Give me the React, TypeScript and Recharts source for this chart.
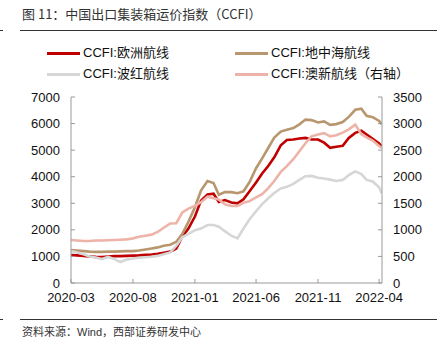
import React from 'react';
import { LineChart, Line, XAxis, YAxis } from 'recharts';

const dates = [
  '2020-03-01','2020-03-16','2020-04-01','2020-04-16','2020-05-01','2020-05-16','2020-06-01','2020-06-16',
  '2020-07-01','2020-07-16','2020-08-01','2020-08-16','2020-09-01','2020-09-16','2020-10-01','2020-10-16',
  '2020-11-01','2020-11-16','2020-12-01','2020-12-16','2021-01-01','2021-01-16','2021-02-01','2021-02-16',
  '2021-03-01','2021-03-16','2021-04-01','2021-04-16','2021-05-01','2021-05-16','2021-06-01','2021-06-16',
  '2021-07-01','2021-07-16','2021-08-01','2021-08-16','2021-09-01','2021-09-16','2021-10-01','2021-10-16',
  '2021-11-01','2021-11-16','2021-12-01','2021-12-16','2022-01-01','2022-01-16','2022-02-01','2022-02-16',
  '2022-03-01','2022-03-16','2022-04-01','2022-04-07',
];

const europe = [
  1050,1040,1020,1000,985,980,1000,1010,1010,1020,1030,1040,1060,1075,1100,1140,
  1180,1300,1750,2050,2500,3100,3330,3360,3050,3120,3030,3000,3150,3450,3780,4120,
  4400,4730,5180,5380,5400,5440,5460,5400,5400,5280,5090,5130,5160,5460,5650,5730,
  5590,5430,5250,5150,
];

const mediterranean = [
  1240,1220,1200,1180,1170,1170,1180,1180,1190,1200,1200,1220,1260,1300,1340,1400,
  1440,1550,1850,2300,2850,3480,3840,3760,3320,3420,3420,3380,3450,3800,4320,4690,
  5080,5470,5700,5770,5830,5970,6150,6130,6040,6080,5950,5980,6060,6250,6520,6560,
  6290,6240,6100,5970,
];

const redSea = [
  1200,1150,1080,1000,960,900,980,900,790,880,920,950,970,985,1020,1080,
  1150,1400,1720,1850,1990,2050,2180,2180,2120,1950,1780,1680,2050,2400,2700,2970,
  3190,3390,3560,3620,3730,3880,4020,4030,3960,3930,3890,3840,3880,4060,4200,4100,
  3880,3820,3600,3380,
];

const australiaNZ = [
  808,800,790,790,800,800,805,810,815,820,840,870,890,910,960,1040,
  1120,1125,1330,1400,1450,1520,1625,1595,1570,1480,1450,1450,1510,1540,1610,1670,
  1785,1920,2090,2200,2330,2480,2630,2760,2795,2820,2760,2780,2830,2890,2980,2800,
  2740,2680,2580,2540,
];

const xTickLabels = ['2020-03', '2020-08', '2021-01', '2021-06', '2021-11', '2022-04'];
const leftTicks = [0, 1000, 2000, 3000, 4000, 5000, 6000, 7000];
const rightTicks = [0, 500, 1000, 1500, 2000, 2500, 3000, 3500];
const xStart = '2020-03-01';
const xEnd = '2022-04-08';

const seriesNames = ['CCFI:欧洲航线', 'CCFI:地中海航线', 'CCFI:波红航线', 'CCFI:澳新航线（右轴）'];
const colors = ['#C00000', '#B8976F', '#D6D6D6', '#EDB3A8'];

const toTs = (s: string) => {
  const [y, m, d] = s.split('-').map(Number);
  return Date.UTC(y, m - 1, d || 1);
};

const data = dates.map((d, i) => ({
  t: toTs(d),
  eu: europe[i],
  med: mediterranean[i],
  rs: redSea[i],
  anz: australiaNZ[i],
}));

const FONT = '"Liberation Sans", Arial, "Noto Sans CJK SC", sans-serif';
const AXIS = '#9a9a9a';
const TM = 11;

const LeftTick = (props: any) => {
  const { x, y, payload } = props;
  return (
    <g>
      <line x1={x + TM} x2={x + TM + 4} y1={y} y2={y} stroke={AXIS} />
      <text x={x} y={y} dy="0.35em" textAnchor="end" fontSize={13} fill="#111" fontFamily={FONT}>
        {payload.value}
      </text>
    </g>
  );
};

const RightTick = (props: any) => {
  const { x, y, payload } = props;
  return (
    <g>
      <line x1={x - TM - 4} x2={x - TM} y1={y} y2={y} stroke={AXIS} />
      <text x={x} y={y} dy="0.35em" textAnchor="start" fontSize={13} fill="#111" fontFamily={FONT}>
        {payload.value}
      </text>
    </g>
  );
};

const xTickMap: Record<number, string> = {};
xTickLabels.forEach((l) => { xTickMap[toTs(l + '-01')] = l; });

const BottomTick = (props: any) => {
  const { x, y, payload } = props;
  const axisY = y - 4;
  return (
    <g>
      <line x1={x} x2={x} y1={axisY - 4} y2={axisY} stroke={AXIS} />
      <text x={x} y={axisY + 18.5} textAnchor="middle" fontSize={13} fill="#111" fontFamily={FONT}>
        {xTickMap[payload.value]}
      </text>
    </g>
  );
};

export default function App() {
  const legendPos = [
    { x: 47, y: 53 },
    { x: 235, y: 53 },
    { x: 47, y: 74 },
    { x: 235, y: 74 },
  ];
  return (
    <div style={{ position: 'absolute', left: 0, top: 0, width: 441, height: 349, background: '#fff', overflow: 'hidden', fontFamily: FONT }}>
      <div style={{ position: 'absolute', left: 22, top: 6, fontSize: 13, lineHeight: '16px', color: '#333', whiteSpace: 'nowrap', fontFamily: '"Noto Sans CJK SC", sans-serif' }}>
        图 11：中国出口集装箱运价指数（CCFI）
      </div>
      <div style={{ position: 'absolute', left: 20, top: 30, width: 417, height: 1, background: '#333' }} />
      <div style={{ position: 'absolute', left: 0, top: 30, width: 3, height: 1, background: '#333' }} />
      {seriesNames.map((n, i) => (
        <div key={n}>
          <div style={{ position: 'absolute', left: legendPos[i].x, top: legendPos[i].y - 1.5, width: 33, height: 3, background: colors[i] }} />
          <div style={{ position: 'absolute', left: legendPos[i].x + 36, top: legendPos[i].y - 8, fontSize: 13, lineHeight: '16px', color: '#111', whiteSpace: 'nowrap' }}>
            {n}
          </div>
        </div>
      ))}
      <div style={{ position: 'absolute', left: 0, top: 0 }}>
        <LineChart width={441} height={349} data={data} margin={{ top: 97, right: 0, bottom: 0, left: 0 }}>
          <XAxis
            dataKey="t"
            type="number"
            scale="time"
            domain={[toTs(xStart), toTs(xEnd)]}
            ticks={xTickLabels.map((l) => toTs(l + '-01'))}
            height={66}
            stroke={AXIS}
            tickLine={false}
            tickSize={0}
            tickMargin={4}
            tick={<BottomTick />}
            interval={0}
            allowDataOverflow
          />
          <YAxis
            yAxisId="left"
            orientation="left"
            width={71}
            domain={[0, 7000]}
            ticks={leftTicks}
            stroke={AXIS}
            tickLine={false}
            tickSize={0}
            tickMargin={TM}
            tick={<LeftTick />}
            interval={0}
          />
          <YAxis
            yAxisId="right"
            orientation="right"
            width={59}
            domain={[0, 3500]}
            ticks={rightTicks}
            stroke={AXIS}
            tickLine={false}
            tickSize={0}
            tickMargin={TM}
            tick={<RightTick />}
            interval={0}
          />
          <Line yAxisId="left" dataKey="eu" stroke={colors[0]} strokeWidth={2.6} dot={false} isAnimationActive={false} />
          <Line yAxisId="left" dataKey="med" stroke={colors[1]} strokeWidth={2.6} dot={false} isAnimationActive={false} />
          <Line yAxisId="left" dataKey="rs" stroke={colors[2]} strokeWidth={2.6} dot={false} isAnimationActive={false} />
          <Line yAxisId="right" dataKey="anz" stroke={colors[3]} strokeWidth={2.6} dot={false} isAnimationActive={false} />
        </LineChart>
      </div>
      <div style={{ position: 'absolute', left: 20, top: 319, width: 417, height: 1, background: '#333' }} />
      <div style={{ position: 'absolute', left: 0, top: 319, width: 3, height: 1, background: '#333' }} />
      <div style={{ position: 'absolute', left: 22, top: 325, fontSize: 11, lineHeight: '15px', color: '#333', whiteSpace: 'nowrap' }}>
        资料来源：Wind，西部证券研发中心
      </div>
    </div>
  );
}
